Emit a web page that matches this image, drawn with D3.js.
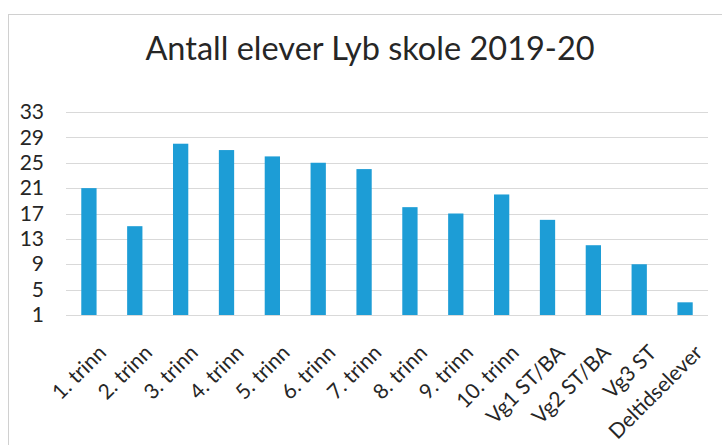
<!DOCTYPE html>
<html>
  <head>
    <meta charset="utf-8">
    <title>Antall elever</title>
    <style>
      body { margin: 0; background: #fff; }
      text { font-family: Lato, "Open Sans", sans-serif; fill: #262626; }
      .grid line { stroke: #d9d9d9; stroke-width: 1; }
      .bar { fill: #1d9dd6; }
    </style>
  </head>
  <body>
    <script src="https://d3js.org/d3.v7.min.js"></script>
    <script>
      // data
      var categories = ["1. trinn", "2. trinn", "3. trinn", "4. trinn", "5. trinn", "6. trinn", "7. trinn",
                        "8. trinn", "9. trinn", "10. trinn", "Vg1 ST/BA", "Vg2 ST/BA", "Vg3 ST", "Deltidselever"];
      var students = [21, 15, 28, 27, 26, 25, 24, 18, 17, 20, 16, 12, 9, 3];
      var yTicks = [1, 5, 9, 13, 17, 21, 25, 29, 33];
      var title = "Antall elever Lyb skole 2019-20";

      var W = 722, H = 445;
      var margin = {top: 112, right: 14, bottom: 130, left: 66},
          width = W - margin.left - margin.right,
          height = H - margin.top - margin.bottom;

      var svg = d3.select("body").append("svg")
          .attr("width", W)
          .attr("height", H);

      // chart frame (only left and top edges are inside the scan)
      svg.append("rect")
          .attr("x", 8.5).attr("y", 14.5)
          .attr("width", W + 20).attr("height", H + 20)
          .attr("fill", "none")
          .attr("stroke", "#d0d0d0");

      var g = svg.append("g")
          .attr("transform", "translate(" + margin.left + "," + margin.top + ")");

      var x = d3.scaleBand()
          .domain(categories)
          .range([0, width])
          .paddingInner(2 / 3)
          .paddingOuter(1 / 3);

      var y = d3.scaleLinear()
          .domain([1, 33])
          .range([height, 0]);

      // gridlines
      g.append("g")
          .attr("class", "grid")
          .selectAll("line")
          .data(yTicks)
          .enter().append("line")
          .attr("x1", 0).attr("x2", width)
          .attr("y1", function(d) { return Math.round(y(d)) + 0.5; })
          .attr("y2", function(d) { return Math.round(y(d)) + 0.5; });

      // bars
      g.selectAll(".bar")
          .data(students)
          .enter().append("rect")
          .attr("class", "bar")
          .attr("x", function(d, i) { return x(categories[i]); })
          .attr("width", x.bandwidth())
          .attr("y", function(d) { return y(d); })
          .attr("height", function(d) { return y(1) - y(d); });

      // y axis labels
      var yAxis = g.append("g")
          .call(d3.axisLeft(y).tickValues(yTicks).tickSize(0).tickPadding(22));
      yAxis.select(".domain").remove();
      yAxis.selectAll("text")
          .style("font-size", "21px")
          .attr("fill", "#262626");

      // x axis labels
      var xAxis = g.append("g")
          .attr("transform", "translate(0," + height + ")")
          .call(d3.axisBottom(x).tickSize(0));
      xAxis.select(".domain").remove();
      xAxis.selectAll("text")
          .style("font-size", "21px")
          .attr("fill", "#262626")
          .attr("text-anchor", "end")
          .attr("dy", null)
          .attr("y", null)
          .attr("transform", "translate(" + (x.bandwidth() / 2 + 11) + ",39) rotate(-45)");

      // title
      svg.append("text")
          .attr("x", 370)
          .attr("y", 60)
          .attr("text-anchor", "middle")
          .style("font-size", "32.5px")
          .text(title);
    </script>
  </body>
</html>
